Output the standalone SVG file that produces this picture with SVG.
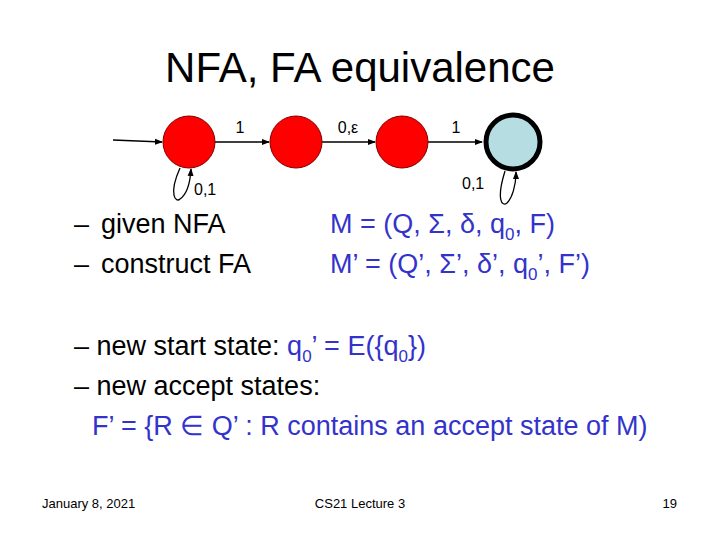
<svg xmlns="http://www.w3.org/2000/svg" width="720" height="540" viewBox="0 0 720 540">
<defs>
<style>
text{font-family:"Liberation Sans",Arial,sans-serif;fill:#000}
.b{fill:#3333cc}
.s{font-size:16px}
.t{font-size:27px}
.st{fill:#ff0000;stroke:#800000;stroke-width:1}
.e{stroke:#000;stroke-width:1.3;fill:none;marker-end:url(#a)}
</style>
<marker id="a" markerWidth="8" markerHeight="8" refX="7" refY="4" orient="auto" markerUnits="userSpaceOnUse"><path d="M0,1 L8,4 L0,7 z" fill="#000"/></marker>
</defs>
<rect width="720" height="540" fill="#fff"/>
<text x="360" y="82" font-size="42" text-anchor="middle">NFA, FA equivalence</text>
<g id="connectors">
<path class="e" d="M113,140 L162,142"/>
<path class="e" d="M215,142 L269,142"/>
<path class="e" d="M322,142 L375,142"/>
<path class="e" d="M428,142 L482,142"/>
<path class="e" d="M180,168 C168,195 176,203 180,199 C186,195 190,185 191,169"/>
<path class="e" d="M505,171 C496,200 502,207 507,203 C512,198 516,186 516,172"/>
</g>
<g id="n1"><circle class="st" cx="189" cy="142" r="26"/></g>
<g id="n2"><circle class="st" cx="296" cy="142" r="26"/></g>
<g id="n3"><circle class="st" cx="402" cy="142" r="26"/></g>
<g id="n4"><circle cx="513" cy="142" r="27" fill="#b6dde2" stroke="#000" stroke-width="5"/></g>
<text class="s" x="240" y="133" text-anchor="middle">1</text>
<text class="s" x="348" y="133" text-anchor="middle">0,ε</text>
<text class="s" x="456" y="133" text-anchor="middle">1</text>
<text class="s" x="194" y="195">0,1</text>
<text class="s" x="462" y="189">0,1</text>
<text class="t" x="74" y="233">–<tspan x="101">given NFA</tspan></text>
<text class="t" x="74" y="273">–<tspan x="101">construct FA</tspan></text>
<text class="t b" x="330" y="233">M = (Q, Σ, δ, q<tspan font-size="17" dy="7">0</tspan><tspan dy="-7">, F)</tspan></text>
<text class="t b" x="330" y="273">M’ = (Q’, Σ’, δ’, q<tspan font-size="17" dy="7">0</tspan><tspan dy="-7">’, F’)</tspan></text>
<text class="t" x="74" y="355">– new start state: <tspan class="b">q<tspan font-size="17" dy="7">0</tspan><tspan dy="-7">’ = E({q</tspan><tspan font-size="17" dy="7">0</tspan><tspan dy="-7">})</tspan></tspan></text>
<text class="t" x="74" y="395">– new accept states:</text>
<text class="t b" x="92" y="435">F’ = {R ∈ Q’ : R contains an accept state of M)</text>
<text x="42" y="508" font-size="13">January 8, 2021</text>
<text x="360" y="508" font-size="13" text-anchor="middle">CS21 Lecture 3</text>
<text x="677" y="508" font-size="13" text-anchor="end">19</text>
</svg>
